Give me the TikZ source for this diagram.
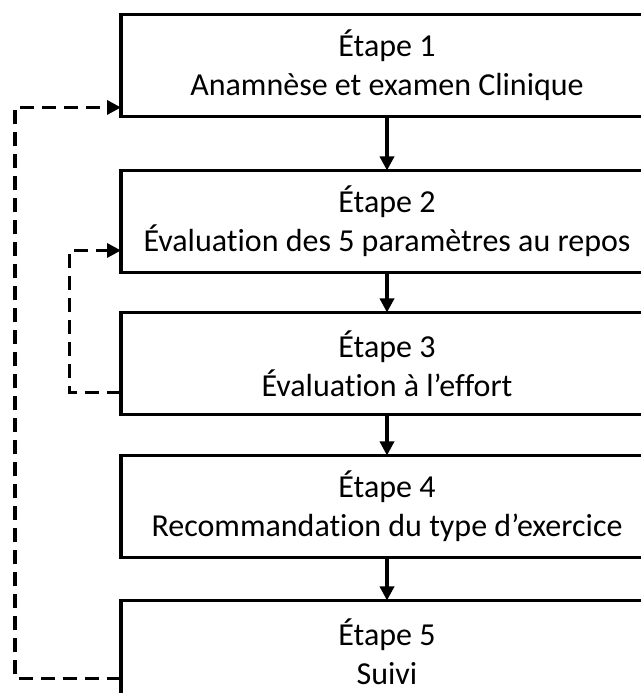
\documentclass[tikz,border=0pt]{standalone}
\usepackage{fontspec}
\setmainfont{Carlito}[Ligatures={NoCommon}]
\usepackage{tikz}
\usetikzlibrary{arrows.meta,positioning,calc}

\begin{document}
\begin{tikzpicture}[
  stepbox/.style={draw,line width=2.5pt,outer sep=0pt,minimum width=399pt,minimum height=76.5pt,align=center,
    font=\fontsize{24}{29}\selectfont},
  arr/.style={-{Triangle[length=10.5pt,width=10.5pt]},line width=2.5pt},
  back/.style={line width=2.5pt,dash pattern=on 10.5pt off 6pt}]
  \useasboundingbox (0,0) rectangle (480.75pt,-519.75pt);
  \clip (0,0) rectangle (480.75pt,-519.75pt);
  \node[stepbox] (e1) at (290.25pt,-49.1pt) {Étape 1\\Anamnèse et examen Clinique};
  \node[stepbox,below=40.5pt of e1] (e2) {Étape 2\\Évaluation des 5 paramètres au repos};
  \node[stepbox,below=30pt of e2] (e3) {Étape 3\\Évaluation à l’effort};
  \node[stepbox,below=30.75pt of e3] (e4) {Étape 4\\Recommandation du type d’exercice};
  \node[stepbox,below=32.25pt of e4] (e5) {Étape 5\\Suivi};
  \draw[arr] (e1) -- (e2);
  \draw[arr] (e2) -- (e3);
  \draw[arr] (e3) -- (e4);
  \draw[arr] (e4) -- (e5);
  % retours en pointillés
  \coordinate (in1) at ([yshift=6.75pt]e1.south west);
  \coordinate (in2) at ([yshift=16.5pt]e2.south west);
  \coordinate (out3) at ([yshift=16.5pt]e3.south west);
  \coordinate (out5) at ([yshift=18pt]e5.south west);
  \coordinate (c3) at ([xshift=-38.6pt]out3);
  \coordinate (c5) at ([xshift=-79.5pt]out5);
  \draw[back,arr] (out3) -- (c3) |- (in2);
  \draw[back,arr] (out5) -- (c5) |- (in1);
\end{tikzpicture}
\end{document}
